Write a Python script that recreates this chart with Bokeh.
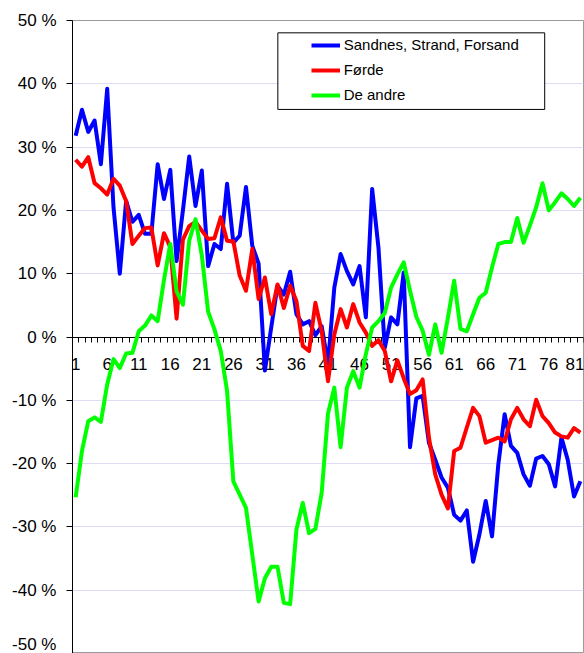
from bokeh.plotting import figure
from bokeh.models import (Range1d, FixedTicker, PrintfTickFormatter, Legend,
                          LegendItem, BoxAnnotation)
from bokeh.embed import file_html
from bokeh.resources import INLINE

# ---------------- data ----------------
periods = list(range(1, 82))

sandnes = [31.8, 35.9, 32.4, 34.2, 27.3, 39.2, 20.5, 10.0, 21.5, 18.2,
           19.3, 16.3, 16.3, 27.3, 21.8, 26.4, 12.0, 20.0, 28.5, 20.7,
           26.3, 11.2, 14.7, 13.9, 24.2, 14.9, 16.0, 23.7, 14.4, 11.6,
           -5.3, 1.5, 8.1, 6.7, 10.3, 3.6, 2.0, 2.5, 0.3, 1.7,
           -4.2, 7.8, 13.1, 10.4, 8.3, 11.2, 3.1, 23.4, 14.1, -1.7,
           3.1, 2.0, 10.2, -17.4, -9.7, -9.3, -16.7, -19.4, -22.2, -23.8,
           -28.1, -29.0, -27.4, -35.5, -31.2, -25.9, -31.5, -20.1, -12.2, -17.2,
           -18.3, -21.7, -23.5, -19.2, -18.8, -20.1, -23.6, -15.9, -19.4, -25.2,
           -22.8]

forde = [28.0, 26.9, 28.4, 24.3, 23.5, 22.5, 25.0, 23.9, 21.5, 14.7,
         16.0, 17.2, 17.3, 11.3, 16.4, 14.2, 2.9, 15.4, 17.5, 18.2,
         16.8, 15.5, 15.6, 18.9, 15.2, 15.1, 9.7, 7.3, 13.9, 6.0,
         9.4, 3.6, 8.3, 4.6, 8.1, 5.7, -1.4, -2.2, 5.4, 0.9,
         -7.0, 0.4, 4.4, 1.5, 5.2, 2.3, 0.7, -1.4, -0.5, -2.2,
         -7.0, -3.7, -6.5, -9.0, -8.4, -6.7, -15.9, -21.7, -24.9, -27.1,
         -18.0, -17.5, -14.3, -11.2, -12.5, -16.7, -16.3, -15.9, -16.5, -13.0,
         -11.2, -13.0, -14.1, -9.9, -12.5, -13.6, -15.1, -15.7, -15.9, -14.4,
         -15.1]

de_andre = [-25.3, -18.0, -13.3, -12.7, -13.4, -7.5, -3.5, -4.9, -2.6, -2.5,
            0.9, 1.8, 3.4, 2.5, 9.0, 14.7, 7.2, 5.1, 15.2, 18.6,
            12.9, 4.0, 1.2, -2.2, -8.5, -22.8, -24.9, -27.0, -34.4, -41.8,
            -38.1, -36.3, -36.3, -42.0, -42.2, -30.4, -26.2, -31.0, -30.3, -24.6,
            -12.1, -8.0, -17.4, -8.0, -5.4, -8.0, -2.7, 1.5, 2.5, 3.8,
            7.8, 9.9, 11.8, 7.3, 3.2, 1.0, -2.8, 2.0, -2.5, 3.0,
            8.9, 1.3, 0.9, 3.6, 6.2, 7.0, 11.0, 14.7, 15.0, 15.0,
            18.8, 14.9, 17.6, 20.5, 24.3, 20.0, 21.3, 22.7, 21.8, 20.7,
            22.0]

x_tick_labels = [1, 6, 11, 16, 21, 26, 31, 36, 41, 46, 51, 56, 61, 66, 71, 76, 81]
y_ticks = [-50, -40, -30, -20, -10, 0, 10, 20, 30, 40, 50]

series_names = ["Sandnes, Strand, Forsand", "Førde", "De andre"]
series_values = [sandnes, forde, de_andre]
series_colors = ["#0000ff", "#ff0000", "#00ff00"]

FONT = "Liberation Sans"

# ---------------- figure ----------------
p = figure(width=584, height=653,
           x_range=Range1d(0.5, len(periods) + 0.5),
           y_range=Range1d(-50, 50),
           output_backend="svg", toolbar_location=None,
           min_border_left=72, min_border_right=1,
           min_border_top=20, min_border_bottom=0)
p.background_fill_color = "white"
p.border_fill_color = "white"
p.outline_line_color = "#9a9a9a"
p.outline_line_width = 1

p.xgrid.visible = False
p.ygrid.ticker = FixedTicker(ticks=[t for t in y_ticks if t not in (-50, 0, 50)])
p.ygrid.grid_line_color = "#dcdcf5"
p.ygrid.grid_line_width = 1

# x axis at y = 0
xa = p.xaxis[0]
xa.fixed_location = 0
xa.level = "underlay"
xa.ticker = FixedTicker(ticks=x_tick_labels,
                        minor_ticks=[c - 0.5 for c in periods] + [periods[-1] + 0.5])
xa.axis_line_color = "black"
xa.axis_line_width = 1
xa.major_tick_in = 0
xa.major_tick_out = 0
xa.minor_tick_in = 0
xa.minor_tick_out = 5
xa.minor_tick_line_color = "black"
xa.major_label_standoff = 16
xa.major_label_text_font = FONT
xa.major_label_text_font_size = "17px"
xa.major_label_text_color = "black"

# y axis
ya = p.yaxis[0]
ya.ticker = FixedTicker(ticks=y_ticks)
ya.formatter = PrintfTickFormatter(format="%d %%")
ya.axis_line_color = "black"
ya.major_tick_in = 0
ya.major_tick_out = 6
ya.major_tick_line_color = "black"
ya.minor_tick_line_color = None
ya.major_label_standoff = 10
ya.major_label_text_font = FONT
ya.major_label_text_font_size = "17px"
ya.major_label_text_color = "black"

# ---------------- lines ----------------
items = []
for name, vals, color in zip(series_names, series_values, series_colors):
    r = p.line(periods, vals, line_color=color, line_width=4, line_join="round")
    items.append(LegendItem(label=name, renderers=[r]))

# legend frame
box = BoxAnnotation(left=33.05, right=75.35, top=48.05, bottom=35.95,
                    fill_color="white", fill_alpha=1.0,
                    line_color="black", line_width=1, line_alpha=1.0)
p.add_layout(box)

legend = Legend(items=items, location=(238.7, 548.3),
                padding=0, spacing=5, margin=0,
                glyph_width=29, glyph_height=20, label_height=20,
                label_standoff=4,
                border_line_color=None, background_fill_alpha=0,
                label_text_font=FONT, label_text_font_size="15px",
                label_text_color="black")
p.add_layout(legend, "center")

open("out.html", "w").write(file_html(p, INLINE))
